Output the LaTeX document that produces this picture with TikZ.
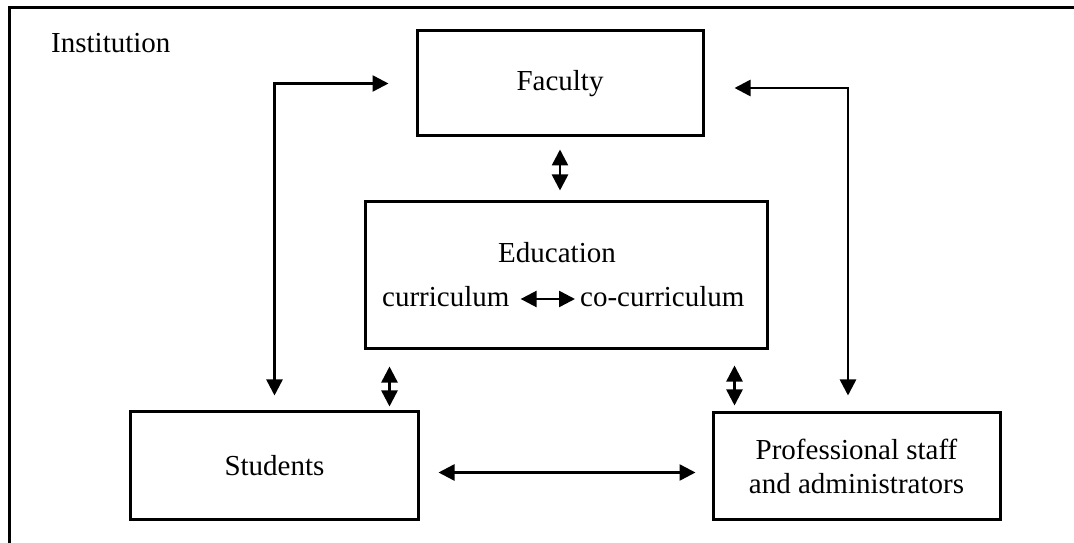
\documentclass[tikz,border=0pt]{standalone}
\usepackage{fontspec}
\setmainfont{Liberation Serif}
\usepackage{xcolor}
\definecolor{inkBlack}{HTML}{000000}
\usepackage{tikz}
\usetikzlibrary{
    arrows.meta,
    positioning,
    calc
}
\tikzset{
    % Base style for all text
    plain base/.style={
        font=\fontsize{29bp}{34bp}\selectfont,
        text=inkBlack,
    },
    % Unit boxes - plain rectangle, thick outline
    unitbox/.style={
        plain base,
        rectangle,
        align=center,
        draw=inkBlack,
        line width=3bp,
        inner sep=0pt,
    },
    % Loose labels set on their baseline
    tag/.style={
        plain base,
        inner sep=0pt,
    },
    % Two-way arrow - filled triangle heads
    twoway/.style={
        {Triangle[length=16bp, width=16bp]}-{Triangle[length=16bp, width=16bp]},
        line width=2.5bp,
        draw=inkBlack,
    },
    % Outer frame
    frame/.style={
        draw=inkBlack,
        line width=3bp,
    },
}
\begin{document}
\begin{tikzpicture}[x=1bp, y=-1bp]
    \useasboundingbox (0,0) rectangle (1074,543);
    \draw [frame] (9,543) |- (1074,8);
    \node (inst) [tag, anchor=base west] at (51,53) {Institution};

    \node (fac) [unitbox, minimum width=286bp, minimum height=105bp] at (560,83.5) {Faculty};
    \node (edu) [unitbox, minimum width=402bp, minimum height=146bp] at (566,275) {};
    \node (stu) [unitbox, minimum width=287bp, minimum height=107bp] at (274.5,465.5) {Students};
    \node (prof) [unitbox, minimum width=287bp, minimum height=106bp] at (856.5,466) {Professional staff\\and administrators};

    \node (eduname) [tag, anchor=base] at (557,263) {Education};
    \node (curr) [tag, anchor=base west] at (382,307) {curriculum};
    \node (cocurr) [tag, anchor=base west] at (580,307) {co-curriculum};

    \draw [twoway, shorten <=11bp, shorten >=5bp] ([yshift=8bp]curr.base east) -- ([yshift=8bp]curr.base east -| cocurr.west);
    \draw [twoway, shorten <=12bp, shorten >=10bp] (fac.south) -- (fac.south |- edu.north);
    \draw [twoway, shorten <=17bp, shorten >=4bp] ([xshift=26bp]edu.south west) -- ([xshift=26bp]edu.south west |- stu.north);
    \draw [twoway, shorten <=16bp, shorten >=6bp] ([xshift=-34bp]edu.south east) -- ([xshift=-34bp]edu.south east |- prof.north);
    \draw [twoway, shorten <=27bp, shorten >=15bp] (fac.west) -| (stu.north);
    \draw [twoway, shorten <=30bp, shorten >=16bp] ([yshift=-4.5bp]fac.east) -| ([xshift=-8.5bp]prof.north);
    \draw [twoway, shorten <=19bp, shorten >=16bp] ([yshift=-7bp]stu.east) -- ([yshift=-7bp]stu.east -| prof.west);
\end{tikzpicture}
\end{document}
